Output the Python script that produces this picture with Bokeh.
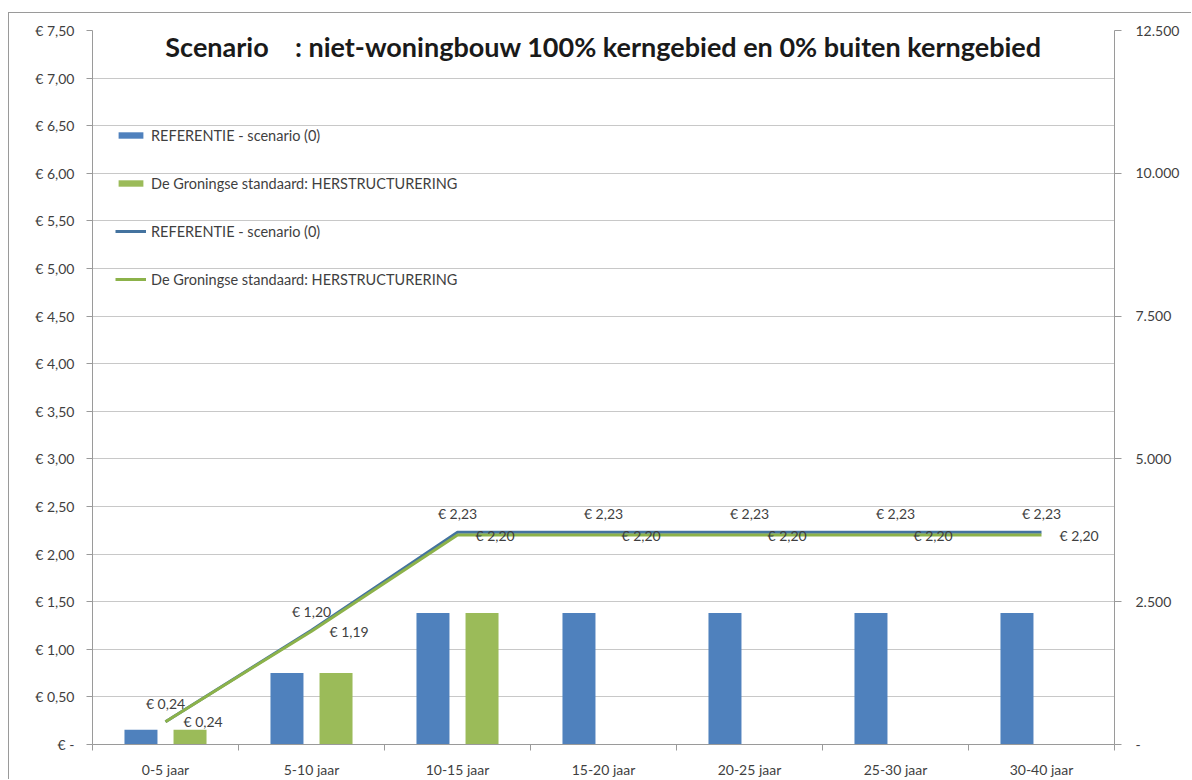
import numpy as np
from bokeh.plotting import figure
from bokeh.models import (Range1d, LinearAxis, FixedTicker, Legend, LegendItem,
                          LabelSet, ColumnDataSource, Label)
from bokeh.core.properties import value
from bokeh.transform import dodge
from bokeh.embed import file_html
from bokeh.resources import INLINE

# --- data -------------------------------------------------------------
categories = ["0-5 jaar", "5-10 jaar", "10-15 jaar", "15-20 jaar",
              "20-25 jaar", "25-30 jaar", "30-40 jaar"]

# bars (right-hand axis)
ref_bars = [260, 1250, 2300, 2300, 2300, 2300, 2300]
gron_bars = [260, 1250, 2300, None, None, None, None]

# lines (left-hand axis, euro)
ref_line = [0.24, 1.20, 2.23, 2.23, 2.23, 2.23, 2.23]
gron_line = [0.24, 1.19, 2.20, 2.20, 2.20, 2.20, 2.20]

left_ticks = [0, 0.5, 1.0, 1.5, 2.0, 2.5, 3.0, 3.5, 4.0, 4.5, 5.0, 5.5, 6.0, 6.5, 7.0, 7.5]
left_tick_labels = ["€ -", "€ 0,50", "€ 1,00", "€ 1,50", "€ 2,00", "€ 2,50", "€ 3,00",
                    "€ 3,50", "€ 4,00", "€ 4,50", "€ 5,00", "€ 5,50", "€ 6,00",
                    "€ 6,50", "€ 7,00", "€ 7,50"]
right_ticks = [0, 2500, 5000, 7500, 10000, 12500]
right_tick_labels = ["-", "2.500", "5.000", "7.500", "10.000", "12.500"]

series_names = ["REFERENTIE - scenario (0)", "De Groningse standaard: HERSTRUCTURERING"]
title_text = "Scenario\u00a0\u00a0\u00a0\u00a0: niet-woningbouw 100% kerngebied en 0% buiten kerngebied"

# --- styling ------------------------------------------------------------
FONT = "Lato"
BLUE = "#4f81bd"
GREEN = "#9bbb59"
BLUE_LINE = "#44739f"
GREEN_LINE = "#8cb24a"
TXT = "#3f3f3f"
GRID = "#c8c8c8"
AXIS = "#9a9a9a"
FS = "14px"


def euro(v):
    return "€ " + f"{v:.2f}".replace(".", ",")


n = len(categories)
centers = [i + 0.5 for i in range(n)]
bounds = list(range(n + 1))

src = ColumnDataSource(dict(
    x=centers,
    ref_bar=np.array(ref_bars, dtype=float),
    gron_bar=np.array([np.nan if v is None else v for v in gron_bars], dtype=float),
    ref_line=ref_line,
    gron_line=gron_line,
    ref_txt=[euro(v) for v in ref_line],
    gron_txt=[euro(v) for v in gron_line],
))

p = figure(width=1183, height=767, x_range=Range1d(0, n), y_range=Range1d(0, 7.5),
           output_backend="svg", toolbar_location=None,
           min_border_left=83, min_border_right=78, min_border_top=17, min_border_bottom=34)
p.styles = {"margin-left": "8px", "margin-top": "12px",
            "border-left": "1px solid #9a9a9a", "border-top": "1px solid #9a9a9a"}
p.outline_line_color = None
p.background_fill_color = "white"
p.border_fill_color = "white"

p.extra_y_ranges = {"n": Range1d(0, 12500)}

# left axis
p.yaxis.ticker = FixedTicker(ticks=left_ticks, minor_ticks=[])
p.yaxis.major_label_overrides = dict(zip(left_ticks, left_tick_labels))
p.yaxis.axis_line_color = AXIS
p.yaxis.major_tick_line_color = AXIS
p.yaxis.major_tick_out = 6
p.yaxis.major_tick_in = 0
p.yaxis.major_label_standoff = 12
p.yaxis.major_label_text_font = FONT
p.yaxis.major_label_text_font_size = FS
p.yaxis.major_label_text_color = TXT

# right axis
ra = LinearAxis(y_range_name="n", ticker=FixedTicker(ticks=right_ticks, minor_ticks=[]),
                major_label_overrides=dict(zip(right_ticks, right_tick_labels)))
ra.axis_line_color = AXIS
ra.major_tick_line_color = AXIS
ra.major_tick_out = 7
ra.major_tick_in = 0
ra.major_label_standoff = 14
ra.major_label_text_font = FONT
ra.major_label_text_font_size = FS
ra.major_label_text_color = TXT
p.add_layout(ra, "right")

# category axis: labels at centres, tick marks at the boundaries
p.xaxis.ticker = FixedTicker(ticks=centers, minor_ticks=bounds)
p.xaxis.major_label_overrides = dict(zip(centers, categories))
p.xaxis.major_tick_line_color = None
p.xaxis.minor_tick_line_color = AXIS
p.xaxis.minor_tick_out = 6
p.xaxis.minor_tick_in = 0
p.xaxis.axis_line_color = AXIS
p.xaxis.major_label_standoff = 10
p.xaxis.major_label_text_font = FONT
p.xaxis.major_label_text_font_size = FS
p.xaxis.major_label_text_color = TXT

p.xgrid.visible = False
p.ygrid.ticker = FixedTicker(ticks=left_ticks, minor_ticks=[])
p.ygrid.grid_line_color = GRID

# bars
bar_w = 0.226
r_b1 = p.vbar(x=dodge("x", -0.168), top="ref_bar", bottom=0, width=bar_w, source=src,
              y_range_name="n", fill_color=BLUE, line_color=None)
r_b2 = p.vbar(x=dodge("x", 0.168), top="gron_bar", bottom=0, width=bar_w, source=src,
              y_range_name="n", fill_color=GREEN, line_color=None)

# lines
r_l1 = p.line("x", "ref_line", source=src, line_width=3, line_color=BLUE_LINE)
r_l2 = p.line("x", "gron_line", source=src, line_width=3, line_color=GREEN_LINE)

# value labels
p.add_layout(LabelSet(x="x", y="ref_line", text="ref_txt", source=src,
                      text_align="center", text_baseline="bottom", y_offset=10,
                      text_font=value(FONT), text_font_size=value(FS), text_color=TXT))
p.add_layout(LabelSet(x="x", y="gron_line", text="gron_txt", source=src,
                      text_align="left", text_baseline="middle", x_offset=18,
                      text_font=value(FONT), text_font_size=value(FS), text_color=TXT))

# legend
legend = Legend(items=[
    LegendItem(label=series_names[0], renderers=[r_b1]),
    LegendItem(label=series_names[1], renderers=[r_b2]),
    LegendItem(label=series_names[0], renderers=[r_l1]),
    LegendItem(label=series_names[1], renderers=[r_l2]),
], location=(23, 455), orientation="vertical",
    background_fill_alpha=0, border_line_color=None,
    padding=0, margin=0, spacing=28, label_height=20, glyph_width=31, glyph_height=8,
    label_standoff=5, label_text_font=FONT, label_text_font_size="14.5px",
    label_text_color=TXT)
p.add_layout(legend)

# title drawn inside the plot area
p.add_layout(Label(x=n / 2, y=7.33, text=title_text, text_align="center",
                   text_baseline="middle", text_font=FONT, text_font_size="27px",
                   text_font_style="bold", text_color="#1a1a1a"))

open("out.html", "w").write(file_html(p, INLINE))
